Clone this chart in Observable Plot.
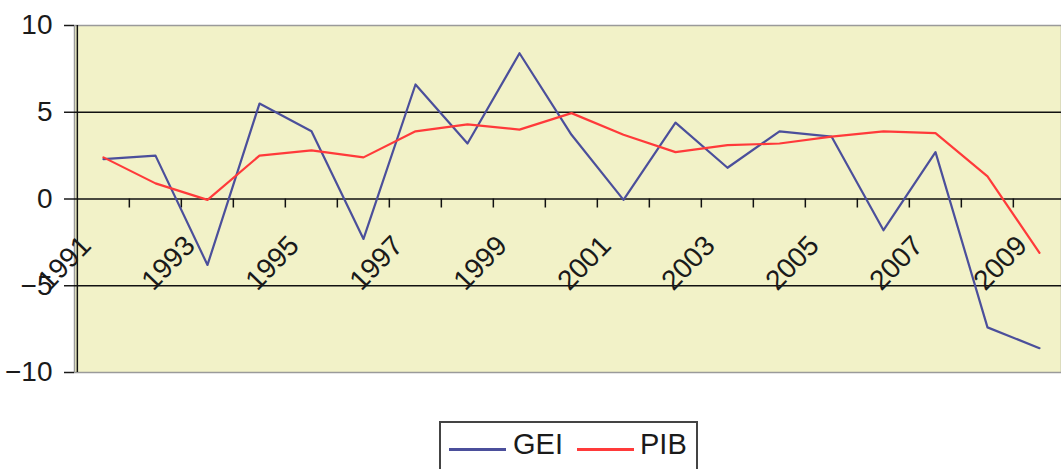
<!DOCTYPE html>
<html>
<head>
<meta charset="utf-8">
<script src="https://cdn.jsdelivr.net/npm/d3@7"></script>
<script src="https://cdn.jsdelivr.net/npm/@observablehq/plot@0.6"></script>
<style>
  body { margin: 0; background: #fff; font-family: "Liberation Sans", Arial, sans-serif; }
  #wrap { position: relative; width: 1061px; height: 469px; overflow: hidden; }
  #chart svg { display: block; font-family: "Liberation Sans", Arial, sans-serif; }
  #legend { position: absolute; left: 439px; top: 421px; width: 255px; height: 70px; border: 2px solid #444; background: #fff; }
  #legend .sw { position: absolute; top: 25px; width: 57px; height: 2.5px; }
  #legend .lb { position: absolute; top: 7px; font-size: 29px; line-height: 29px; color: #1a1a1a; }
</style>
</head>
<body>
<div id="wrap">
  <div id="chart"></div>
  <div id="legend">
    <span class="sw" style="left:8px;background:#4b4f9b"></span>
    <span class="lb" style="left:72px">GEI</span>
    <span class="sw" style="left:136px;background:#ff3a3a"></span>
    <span class="lb" style="left:199px">PIB</span>
  </div>
</div>
<script>
const years = [1991,1992,1993,1994,1995,1996,1997,1998,1999,2000,2001,2002,2003,2004,2005,2006,2007,2008,2009];
const gei = [2.3,2.5,-3.8,5.5,3.9,-2.3,6.6,3.2,8.4,3.7,-0.05,4.4,1.8,3.9,3.6,-1.8,2.7,-7.4,-8.6];
const pib = [2.4,0.9,-0.05,2.5,2.8,2.4,3.9,4.3,4.0,4.95,3.7,2.7,3.1,3.2,3.6,3.9,3.8,1.3,-3.1];
const yTicks = [-10,-5,0,5,10];
const gridValues = [5,0,-5];
const yearLabels = years.filter((y, i) => i % 2 === 0);

const data = years.map((y, i) => ({year: y, GEI: gei[i], PIB: pib[i]}));

const x0 = 74, x1 = 1068;
const step = (x1 - x0) / years.length;

const chart = Plot.plot({
  width: 1061,
  height: 410,
  marginLeft: 74,
  marginRight: 0,
  marginTop: 25,
  marginBottom: 38,
  x: {type: "point", domain: years, range: [x0, x1], padding: 0.5, axis: null},
  y: {domain: [-10, 10], axis: null},
  marks: [
    Plot.frame({fill: "#f2f2c8", stroke: "#9a9a9a", strokeWidth: 1.5}),
    Plot.ruleY(gridValues, {stroke: "#111", strokeWidth: 1.5}),
    Plot.ruleX([years[0]], {y1: -10, y2: 10, dx: -step / 2, stroke: "#111", strokeWidth: 1.5}),
    Plot.ruleX(years.slice(1), {y1: 0, y2: 0, dx: -step / 2, insetBottom: -9, stroke: "#111", strokeWidth: 1.5}),
    Plot.axisY(yTicks, {tickSize: 10, tickPadding: 12, fontSize: 28, color: "#1a1a1a", strokeWidth: 1.5}),
    Plot.line(data, {x: "year", y: "GEI", stroke: "#4b4f9b", strokeWidth: 2.2}),
    Plot.line(data, {x: "year", y: "PIB", stroke: "#ff3a3a", strokeWidth: 2.2}),
    Plot.text(yearLabels, {x: d => d, y: 0, text: d => String(d), rotate: -46, textAnchor: "end", lineAnchor: "bottom", dx: -11, dy: 48, fontSize: 28, fill: "#1a1a1a"})
  ]
});
document.getElementById("chart").appendChild(chart);
</script>
</body>
</html>
